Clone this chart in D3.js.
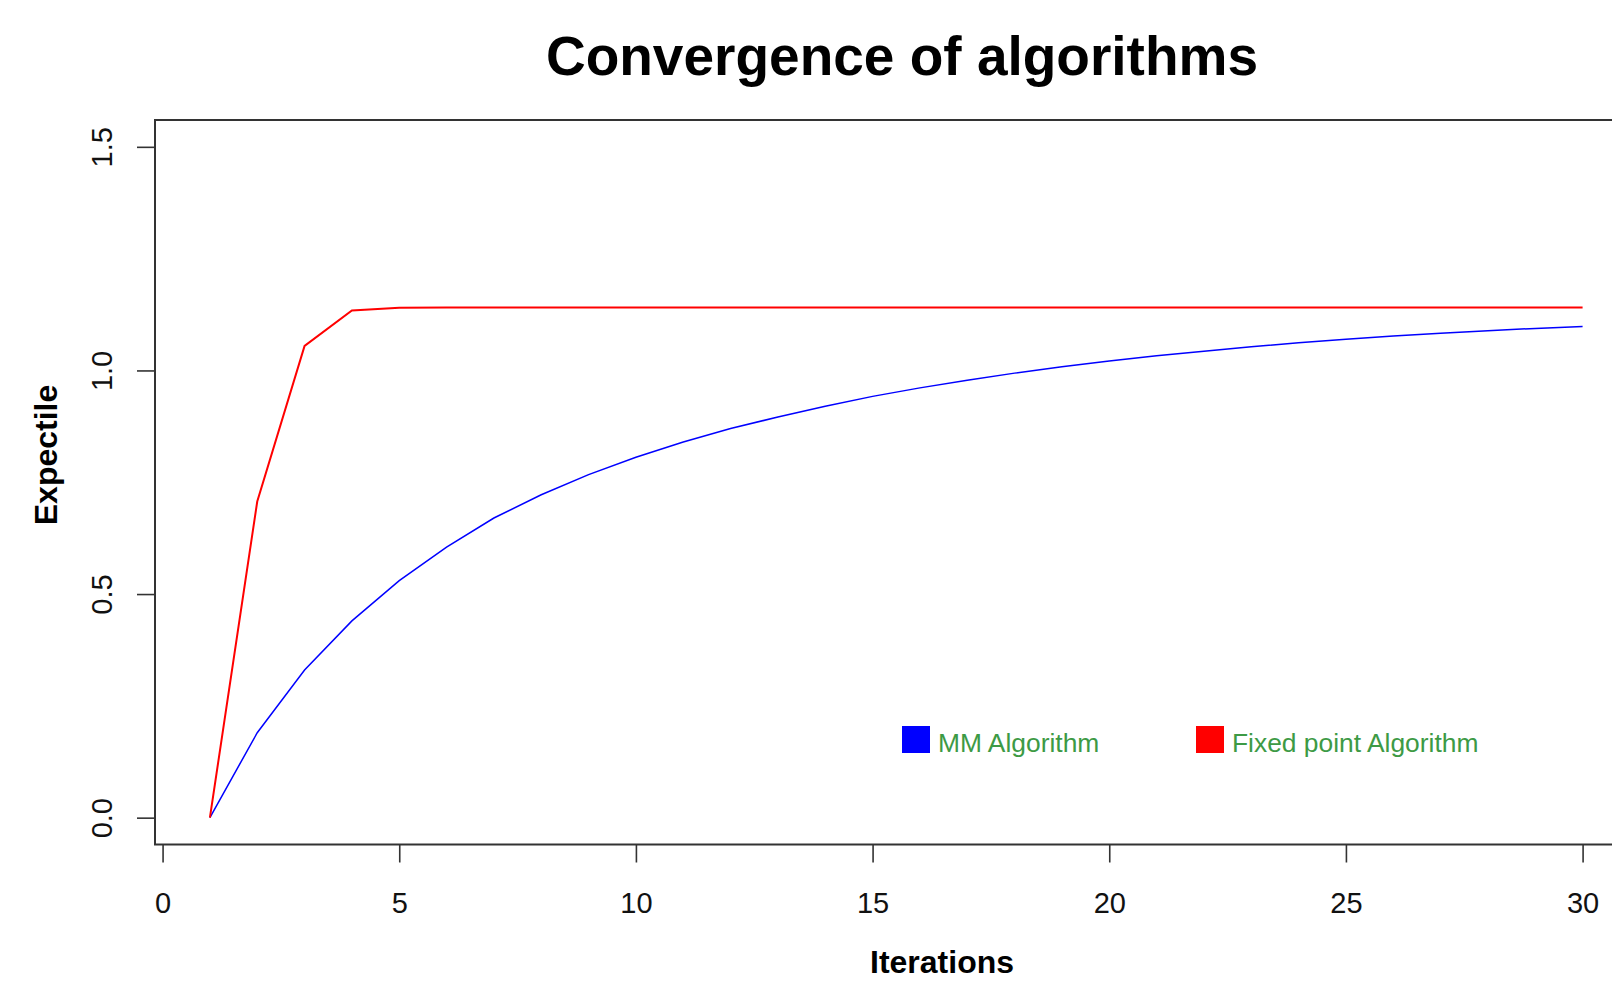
<!DOCTYPE html>
<html>
<head>
<meta charset="utf-8">
<script src="https://cdn.jsdelivr.net/npm/d3@7"></script>
<style>
  body { margin: 0; background: #fff; overflow: hidden; }
  svg { display: block; font-family: "Liberation Sans", Arial, sans-serif; }
</style>
</head>
<body>
<script>
// iteration index
const iterations = d3.range(1, 31);

// MM algorithm expectile per iteration
const mmValues = [0, 0.19, 0.33, 0.44, 0.53, 0.605, 0.67, 0.722, 0.767, 0.806,
  0.84, 0.87, 0.896, 0.92, 0.942, 0.961, 0.978, 0.994, 1.008, 1.021,
  1.033, 1.043, 1.053, 1.062, 1.07, 1.077, 1.083, 1.089, 1.094, 1.098];

// fixed point algorithm expectile per iteration
const fixedValues = [0, 0.707, 1.055, 1.134, 1.14, 1.141, 1.141, 1.141, 1.141, 1.141,
  1.141, 1.141, 1.141, 1.141, 1.141, 1.141, 1.141, 1.141, 1.141, 1.141,
  1.141, 1.141, 1.141, 1.141, 1.141, 1.141, 1.141, 1.141, 1.141, 1.141];

const xTicks = [0, 5, 10, 15, 20, 25, 30];
const yTicks = [0, 0.5, 1.0, 1.5];
const legendLabels = ["MM Algorithm", "Fixed point Algorithm"];
const legendColours = ["#0000ff", "#ff0000"];

const width = 1612;
const height = 981;

const svg = d3.select("body").append("svg")
  .attr("width", width)
  .attr("height", height);

// R style usr region (4% padding), right side runs off the picture
const x = d3.scaleLinear().domain([-0.16, 31.16]).range([155, 1637.5]);
const y = d3.scaleLinear().domain([-0.06, 1.56]).range([844.5, 120]);

// title
svg.append("text")
  .attr("x", 902)
  .attr("y", 75)
  .attr("text-anchor", "middle")
  .style("font-size", "55px")
  .style("font-weight", "bold")
  .text("Convergence of algorithms");

// x axis
const xAxis = svg.append("g")
  .attr("transform", "translate(0," + y(-0.06) + ")")
  .call(d3.axisBottom(x).tickValues(xTicks).tickSize(18).tickPadding(29.5)
    .tickFormat(d3.format("d")));
xAxis.select(".domain").remove();
xAxis.selectAll("line").attr("stroke", "#333").attr("stroke-width", 1.6);
xAxis.selectAll("text").style("font-size", "29px").attr("fill", "#111");

// y axis, labels turned like R's las=0
const yAxis = svg.append("g")
  .attr("transform", "translate(" + x(-0.16) + ",0)")
  .call(d3.axisLeft(y).tickValues(yTicks).tickSize(18).tickFormat(d3.format(".1f")));
yAxis.select(".domain").remove();
yAxis.selectAll("line").attr("stroke", "#333").attr("stroke-width", 1.6);
yAxis.selectAll("text")
  .attr("x", null)
  .attr("dy", null)
  .attr("text-anchor", "middle")
  .attr("transform", "translate(-43,0) rotate(-90)")
  .style("font-size", "29px")
  .attr("fill", "#111");

// axis titles
svg.append("text")
  .attr("x", 942)
  .attr("y", 973)
  .attr("text-anchor", "middle")
  .style("font-size", "32px")
  .style("font-weight", "bold")
  .text("Iterations");

svg.append("text")
  .attr("transform", "translate(57,455) rotate(-90)")
  .attr("text-anchor", "middle")
  .style("font-size", "32px")
  .style("font-weight", "bold")
  .text("Expectile");

// lines
const line = d3.line()
  .x(function(d) { return x(d[0]); })
  .y(function(d) { return y(d[1]); });

svg.append("path")
  .datum(d3.zip(iterations, mmValues))
  .attr("fill", "none")
  .attr("stroke", "#0000ff")
  .attr("stroke-width", 1.5)
  .attr("d", line);

svg.append("path")
  .datum(d3.zip(iterations, fixedValues))
  .attr("fill", "none")
  .attr("stroke", "#ff0000")
  .attr("stroke-width", 2)
  .attr("d", line);

// plot box
svg.append("rect")
  .attr("x", x(-0.16))
  .attr("y", y(1.56))
  .attr("width", x(31.16) - x(-0.16))
  .attr("height", y(-0.06) - y(1.56))
  .attr("fill", "none")
  .attr("stroke", "#333")
  .attr("stroke-width", 2);

// legend
const legendX = [902, 1196];
const legend = svg.selectAll(".legend")
  .data(legendLabels)
  .enter()
  .append("g")
  .attr("class", "legend")
  .attr("transform", function(d, i) { return "translate(" + legendX[i] + ",726)"; });

legend.append("rect")
  .attr("width", 28)
  .attr("height", 27)
  .attr("fill", function(d, i) { return legendColours[i]; });

legend.append("text")
  .attr("x", 36)
  .attr("y", 26)
  .style("font-size", "26.4px")
  .attr("fill", "#3d9a45")
  .text(function(d) { return d; });
</script>
</body>
</html>
